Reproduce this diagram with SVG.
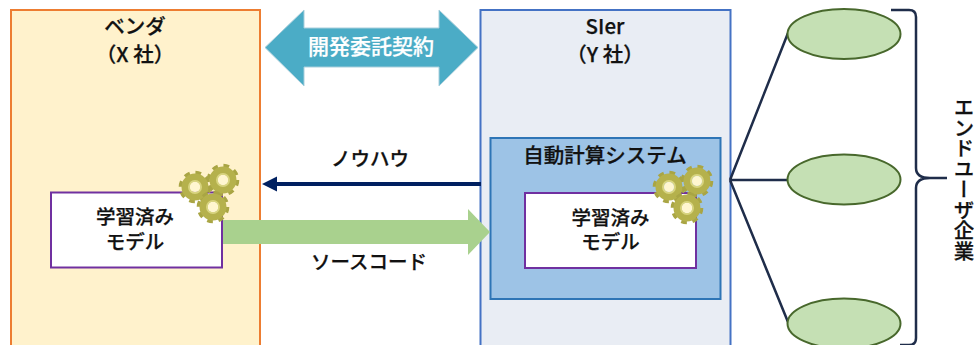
<svg xmlns="http://www.w3.org/2000/svg" width="974" height="345" viewBox="0 0 974 345">
<style>
text{font-family:"Noto Sans CJK JP","Noto Sans",sans-serif;fill:#111;stroke:#111;stroke-width:.25;font-size:19.500px;text-anchor:middle;font-weight:500}
.head{font-size:20.500px}
.model{fill:#fff;stroke:#7030a0;stroke-width:2}
.ell{fill:#c5e0b4;stroke:#48682c;stroke-width:2}
.ln{fill:none;stroke:#1f2d4a;stroke-width:2.500}
</style>
<defs>
<g id="gear">
<circle r="13.800" fill="none" stroke="#a9a544" stroke-width="5" stroke-dasharray="5.420 5.420"/>
<circle r="9.500" fill="none" stroke="#b5b14c" stroke-width="8"/>
<circle r="6" fill="none" stroke="#d8d480" stroke-width="2"/>
<circle r="5" fill="#fff6d0"/>
</g>
</defs>
<rect width="974" height="345" fill="#fff"/>
<g id="vendor">
<rect x="11" y="10" width="249" height="345" fill="#fff2cc" stroke="#ed7d31" stroke-width="2"/>
<text class="head" x="135" y="34">ベンダ<tspan x="135" y="62">（X 社）</tspan></text>
</g>
<g id="sier">
<rect x="480.500" y="10" width="250" height="345" fill="#e9edf4" stroke="#4472c4" stroke-width="2"/>
<text class="head" x="605" y="34">SIer<tspan x="605" y="62">（Y 社）</tspan></text>
</g>
<g id="system">
<rect x="490.500" y="138" width="230" height="161" fill="#9dc3e6" stroke="#2e75b6" stroke-width="2"/>
<text x="605" y="163" style="font-size:20.500px">自動計算システム</text>
</g>
<g id="model-x">
<rect class="model" x="51" y="192.500" width="171" height="75"/>
<text x="135" y="224">学習済み<tspan x="135" y="249">モデル</tspan></text>
</g>
<g id="model-y">
<rect class="model" x="525" y="193" width="171" height="75"/>
<text x="610.500" y="225">学習済み<tspan x="610.500" y="249">モデル</tspan></text>
</g>
<g id="gears-x">
<use href="#gear" x="195" y="187"/>
<use href="#gear" x="223" y="180"/>
<use href="#gear" x="213" y="207"/>
</g>
<g id="gears-y">
<use href="#gear" x="669" y="187"/>
<use href="#gear" x="697" y="181"/>
<use href="#gear" x="687" y="208"/>
</g>
<g id="contract">
<polygon points="265,47.500 304,10 304,28 439,28 439,10 478,47.500 439,86 439,67 304,67 304,86" fill="#4bacc6" stroke="#a9cfdc" stroke-width="1"/>
<text x="371" y="54" style="fill:#fff;stroke:#fff;font-size:21px">開発委託契約</text>
</g>
<g id="connectors">
<polygon points="223,220 468,220 468,209 490,232 468,255 468,244 223,244" fill="#a9d18e"/>
<path d="M481 184H275" fill="none" stroke="#002060" stroke-width="4"/>
<polygon points="262,184 277,176.500 277,191.500" fill="#002060"/>
<path class="ln" d="M788 33L730 180M730 180H788M730 180L788 322"/>
</g>
<g id="label-knowhow"><text x="370" y="166">ノウハウ</text></g>
<g id="label-source"><text x="369" y="269">ソースコード</text></g>
<g id="user-1"><ellipse class="ell" cx="844" cy="34" rx="56.500" ry="25"/></g>
<g id="user-2"><ellipse class="ell" cx="844" cy="179.500" rx="56.500" ry="25"/></g>
<g id="user-3"><ellipse class="ell" cx="844" cy="323.500" rx="56.500" ry="25"/></g>
<g id="brace">
<path class="ln" d="M891 10H909Q916 10 916 17V168Q916 178 930 178H947M930 178Q916 178 916 188V338Q916 345 909 345H900"/>
</g>
<g id="end-users">
<text x="964" y="97" style="writing-mode:vertical-rl;text-anchor:start;font-size:20.500px">エンドユーザ企業</text>
</g>
</svg>
